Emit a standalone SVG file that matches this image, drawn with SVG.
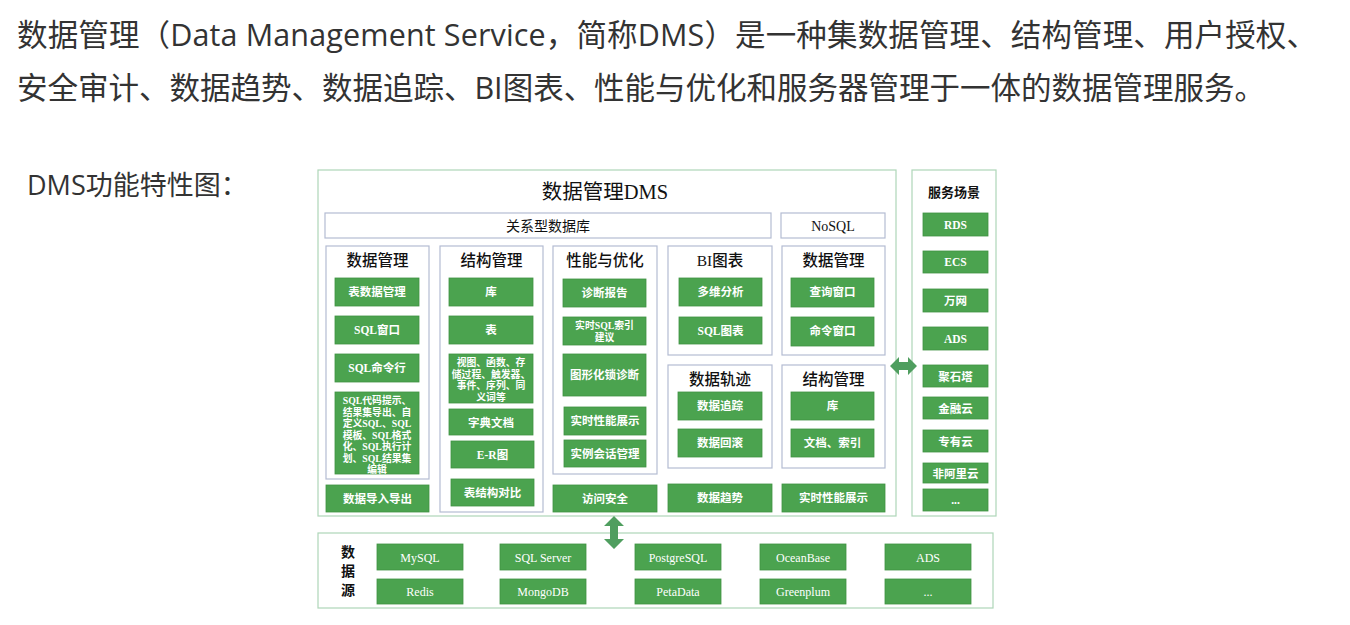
<svg xmlns="http://www.w3.org/2000/svg" width="1350" height="625" viewBox="0 0 1350 625">
<style>
.hdr{font-family:"Open Sans","Noto Sans CJK SC",sans-serif;fill:#333;}
.frame{fill:#fff;stroke:#aed6b8;stroke-width:1.2;}
.panel{fill:#fff;stroke:#b4bcd2;stroke-width:1.2;}
.btn{fill:#4ba34f;stroke:#3f9243;stroke-width:0.8;}
.bt{font-family:"Liberation Serif","Noto Sans CJK SC",serif;font-weight:bold;fill:#fff;font-size:11.5px;text-anchor:middle;}
.bs{font-family:"Liberation Serif","Noto Sans CJK SC",serif;font-weight:bold;fill:#fff;font-size:9.8px;text-anchor:middle;}
.ds{font-family:"Liberation Serif","Noto Sans CJK SC",serif;fill:#fff;font-size:12px;text-anchor:middle;}
.ph{font-family:"Liberation Serif","Noto Sans CJK SC",serif;font-weight:500;fill:#111;font-size:15.5px;text-anchor:middle;}
.bar{font-family:"Liberation Serif","Noto Sans CJK SC",serif;fill:#111;font-size:14px;text-anchor:middle;}
.arrow{fill:#4f9e5f;}
</style>
<rect width="1350" height="625" fill="#fff"/>
<g id="intro">
<text class="hdr" x="17" y="46" font-size="30.5" textLength="1300" lengthAdjust="spacing">数据管理（Data Management Service，简称DMS）是一种集数据管理、结构管理、用户授权、</text>
<text class="hdr" x="17" y="99" font-size="30.5" textLength="1248" lengthAdjust="spacing">安全审计、数据趋势、数据追踪、BI图表、性能与优化和服务器管理于一体的数据管理服务。</text>
<text class="hdr" x="27" y="195" font-size="27">DMS功能特性图：</text>
</g>
<g id="dms">
<rect class="frame" x="318" y="170" width="578" height="346"/>
<text x="605" y="199" font-family="Liberation Serif,Noto Sans CJK SC,serif" font-size="20.5" fill="#111" text-anchor="middle">数据管理DMS</text>
</g>
<g id="rdb-bar"><rect class="panel" x="325" y="213" width="446" height="25"/><text class="bar" x="548" y="231">关系型数据库</text></g>
<g id="nosql-bar"><rect class="panel" x="781" y="213" width="104" height="25"/><text class="bar" x="833" y="231">NoSQL</text></g>

<g id="col-data-mgmt">
<rect class="panel" x="326" y="246" width="103" height="233"/>
<text class="ph" x="377.5" y="266">数据管理</text>
<rect class="btn" x="335" y="278" width="84" height="28"/><text class="bt" x="377" y="296">表数据管理</text>
<rect class="btn" x="335" y="316" width="84" height="28"/><text class="bt" x="377" y="334">SQL窗口</text>
<rect class="btn" x="335" y="354" width="84" height="28"/><text class="bt" x="377" y="372">SQL命令行</text>
<rect class="btn" x="335" y="392" width="84" height="82"/>
<text class="bs"><tspan x="377" y="404">SQL代码提示、</tspan><tspan x="377" y="415.5">结果集导出、自</tspan><tspan x="377" y="427">定义SQL、SQL</tspan><tspan x="377" y="438.5">模板、SQL格式</tspan><tspan x="377" y="450">化、SQL执行计</tspan><tspan x="377" y="461.5">划、SQL结果集</tspan><tspan x="377" y="473">编辑</tspan></text>
</g>
<g id="import-export"><rect class="btn" x="326" y="485" width="103" height="27"/><text class="bt" x="377.5" y="503" font-size="12">数据导入导出</text></g>

<g id="col-struct-mgmt">
<rect class="panel" x="440" y="246" width="103" height="266"/>
<text class="ph" x="491.5" y="266">结构管理</text>
<rect class="btn" x="449" y="278" width="84" height="28"/><text class="bt" x="491" y="296">库</text>
<rect class="btn" x="449" y="316" width="84" height="28"/><text class="bt" x="491" y="334">表</text>
<rect class="btn" x="449" y="354" width="84" height="49"/>
<text class="bs"><tspan x="491" y="366">视图、函数、存</tspan><tspan x="491" y="377.5">储过程、触发器、</tspan><tspan x="491" y="389">事件、序列、同</tspan><tspan x="491" y="400.5">义词等</tspan></text>
<rect class="btn" x="449" y="409" width="84" height="26"/><text class="bt" x="491" y="427" font-size="12.5">字典文档</text>
<rect class="btn" x="451" y="441" width="83" height="27"/><text class="bt" x="492.5" y="459">E-R图</text>
<rect class="btn" x="451" y="479" width="83" height="27"/><text class="bt" x="492.5" y="497" font-size="12.5">表结构对比</text>
</g>

<g id="col-perf">
<rect class="panel" x="553" y="246" width="104" height="228"/>
<text class="ph" x="605" y="266">性能与优化</text>
<rect class="btn" x="563" y="279" width="83" height="28"/><text class="bt" x="604.5" y="297">诊断报告</text>
<rect class="btn" x="563" y="317" width="83" height="28"/>
<text class="bs" font-size="10.5"><tspan x="604.5" y="329">实时SQL索引</tspan><tspan x="604.5" y="341">建议</tspan></text>
<rect class="btn" x="563" y="354" width="83" height="42"/><text class="bt" x="604.5" y="379">图形化锁诊断</text>
<rect class="btn" x="564" y="407" width="82" height="28"/><text class="bt" x="605" y="425" font-size="12.5">实时性能展示</text>
<rect class="btn" x="564" y="440" width="82" height="27"/><text class="bt" x="605" y="458" font-size="12.5">实例会话管理</text>
</g>
<g id="access-security"><rect class="btn" x="553" y="485" width="104" height="27"/><text class="bt" x="605" y="503" font-size="12.5">访问安全</text></g>

<g id="col-bi">
<rect class="panel" x="668" y="246" width="104" height="109"/>
<text class="ph" x="720" y="266">BI图表</text>
<rect class="btn" x="679" y="278" width="83" height="28"/><text class="bt" x="720.5" y="296">多维分析</text>
<rect class="btn" x="679" y="317" width="83" height="27"/><text class="bt" x="720.5" y="335">SQL图表</text>
</g>
<g id="col-track">
<rect class="panel" x="668" y="365" width="104" height="103"/>
<text class="ph" x="720" y="385" font-weight="bold">数据轨迹</text>
<rect class="btn" x="678" y="392" width="84" height="28"/><text class="bt" x="720" y="410">数据追踪</text>
<rect class="btn" x="678" y="429" width="84" height="28"/><text class="bt" x="720" y="447">数据回滚</text>
</g>
<g id="data-trend"><rect class="btn" x="668" y="484" width="104" height="28"/><text class="bt" x="720" y="502">数据趋势</text></g>

<g id="col-nosql-data">
<rect class="panel" x="782" y="246" width="103" height="109"/>
<text class="ph" x="833.5" y="266">数据管理</text>
<rect class="btn" x="791" y="278" width="83" height="29"/><text class="bt" x="832.5" y="296">查询窗口</text>
<rect class="btn" x="791" y="317" width="83" height="29"/><text class="bt" x="832.5" y="335">命令窗口</text>
</g>
<g id="col-nosql-struct">
<rect class="panel" x="782" y="365" width="103" height="103"/>
<text class="ph" x="833.5" y="385" font-weight="bold">结构管理</text>
<rect class="btn" x="791" y="392" width="83" height="28"/><text class="bt" x="832.5" y="410">库</text>
<rect class="btn" x="791" y="429" width="83" height="28"/><text class="bt" x="832.5" y="447">文档、索引</text>
</g>
<g id="realtime-perf"><rect class="btn" x="782" y="484" width="103" height="28"/><text class="bt" x="833.5" y="502">实时性能展示</text></g>

<g id="scenarios">
<rect class="frame" x="912" y="170" width="84" height="346"/>
<text x="954" y="197" font-family="Noto Sans CJK SC,sans-serif" font-weight="bold" font-size="13" fill="#111" text-anchor="middle">服务场景</text>
<rect class="btn" x="923" y="213" width="65" height="23"/><text class="bt" x="955.5" y="229" font-size="11">RDS</text>
<rect class="btn" x="923" y="251" width="65" height="22"/><text class="bt" x="955.5" y="266" font-size="11">ECS</text>
<rect class="btn" x="923" y="289" width="65" height="23"/><text class="bt" x="955.5" y="305" font-size="11.5">万网</text>
<rect class="btn" x="923" y="327" width="65" height="23"/><text class="bt" x="955.5" y="343" font-size="11">ADS</text>
<rect class="btn" x="923" y="365" width="65" height="22"/><text class="bt" x="955.5" y="380.5" font-size="11.5">聚石塔</text>
<rect class="btn" x="923" y="397" width="65" height="22"/><text class="bt" x="955.5" y="412.5" font-size="11.5">金融云</text>
<rect class="btn" x="923" y="430" width="65" height="22"/><text class="bt" x="955.5" y="445.5" font-size="11.5">专有云</text>
<rect class="btn" x="923" y="463" width="65" height="20"/><text class="bt" x="955.5" y="477.5" font-size="11.5">非阿里云</text>
<rect class="btn" x="923" y="489" width="65" height="22"/><text class="bt" x="955.5" y="504" font-size="11">...</text>
</g>

<g id="datasources">
<rect class="frame" x="318" y="533" width="675" height="75"/>
<text font-family="Noto Sans CJK SC,sans-serif" font-weight="bold" font-size="14" fill="#111" text-anchor="middle"><tspan x="348" y="557">数</tspan><tspan x="348" y="576">据</tspan><tspan x="348" y="595">源</tspan></text>
<rect class="btn" x="377" y="544" width="86" height="26"/><text class="ds" x="420" y="561.5">MySQL</text>
<rect class="btn" x="500" y="544" width="86" height="26"/><text class="ds" x="543" y="561.5">SQL Server</text>
<rect class="btn" x="635" y="544" width="86" height="26"/><text class="ds" x="678" y="561.5">PostgreSQL</text>
<rect class="btn" x="760" y="544" width="86" height="26"/><text class="ds" x="803" y="561.5">OceanBase</text>
<rect class="btn" x="885" y="544" width="86" height="26"/><text class="ds" x="928" y="561.5">ADS</text>
<rect class="btn" x="377" y="579" width="86" height="25"/><text class="ds" x="420" y="596">Redis</text>
<rect class="btn" x="500" y="579" width="86" height="25"/><text class="ds" x="543" y="596">MongoDB</text>
<rect class="btn" x="635" y="579" width="86" height="25"/><text class="ds" x="678" y="596">PetaData</text>
<rect class="btn" x="760" y="579" width="86" height="25"/><text class="ds" x="803" y="596">Greenplum</text>
<rect class="btn" x="885" y="579" width="86" height="25"/><text class="ds" x="928" y="596">...</text>
</g>

<g id="connectors">
<path class="arrow" d="M890,366 L899,357 L899,362 L908,362 L908,357 L917,366 L908,375 L908,370 L899,370 L899,375 Z"/>
<path class="arrow" d="M614,516 L624,526 L618,526 L618,539 L624,539 L614,549 L604,539 L610,539 L610,526 L604,526 Z"/>
</g>
</svg>
